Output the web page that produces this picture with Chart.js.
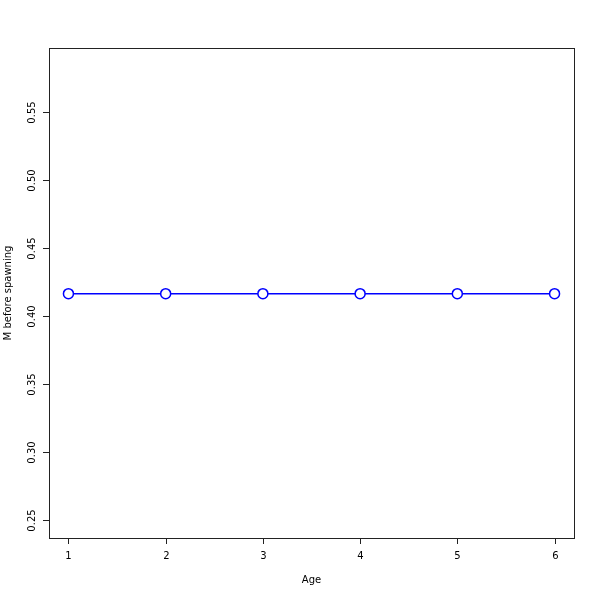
<!DOCTYPE html>
<html>
<head>
<meta charset="utf-8">
<script src="https://cdn.jsdelivr.net/npm/chart.js@4/dist/chart.umd.min.js"></script>
<style>
  html, body { margin: 0; padding: 0; background: #fff; }
  #wrap { width: 600px; height: 600px; }
</style>
</head>
<body>
<div id="wrap"><canvas id="mChart" width="600" height="600"></canvas></div>
<script>
// data
const ages = [1, 2, 3, 4, 5, 6];
const mBeforeSpawning = [0.4162, 0.4162, 0.4162, 0.4162, 0.4162, 0.4162];
const xTicks = [1, 2, 3, 4, 5, 6];
const yTicks = [0.25, 0.30, 0.35, 0.40, 0.45, 0.50, 0.55];

const FONT = '10px "DejaVu Sans", sans-serif';

// draws the R style box, ticks, tick labels and axis titles
const rAxes = {
    id: 'rAxes',
    afterDraw(chart) {
        const ctx = chart.ctx;
        const a = chart.chartArea;
        const xs = chart.scales.x;
        const ys = chart.scales.y;
        ctx.save();
        ctx.strokeStyle = '#222';
        ctx.lineWidth = 1;
        ctx.strokeRect(Math.round(a.left) + 0.5, Math.round(a.top) + 0.5,
            Math.round(a.right - a.left), Math.round(a.bottom - a.top));

        ctx.fillStyle = '#000';
        ctx.font = FONT;

        // x ticks
        ctx.textAlign = 'center';
        ctx.textBaseline = 'middle';
        xTicks.forEach(v => {
            const px = Math.round(xs.getPixelForValue(v)) + 0.5;
            ctx.beginPath();
            ctx.moveTo(px, a.bottom);
            ctx.lineTo(px, a.bottom + 6);
            ctx.stroke();
            ctx.fillText(String(v), px, a.bottom + 18);
        });

        // y ticks (labels rotated like R)
        yTicks.forEach(v => {
            const py = Math.round(ys.getPixelForValue(v)) + 0.5;
            ctx.beginPath();
            ctx.moveTo(a.left - 6, py);
            ctx.lineTo(a.left, py);
            ctx.stroke();
            ctx.save();
            ctx.translate(a.left - 17, py);
            ctx.rotate(-Math.PI / 2);
            ctx.fillText(v.toFixed(2), 0, 0);
            ctx.restore();
        });

        // axis titles
        ctx.fillText('Age', (a.left + a.right) / 2, 580);
        ctx.save();
        ctx.translate(8, (a.top + a.bottom) / 2);
        ctx.rotate(-Math.PI / 2);
        ctx.fillText('M before spawning', 0, 0);
        ctx.restore();
        ctx.restore();
    }
};

const ctx = document.getElementById('mChart').getContext('2d');
const mChart = new Chart(ctx, {
    type: 'line',
    data: {
        datasets: [{
            data: ages.map((a, i) => ({ x: a, y: mBeforeSpawning[i] })),
            borderColor: '#0000ff',
            borderWidth: 1.5,
            pointRadius: 5,
            pointBorderWidth: 1.5,
            pointBackgroundColor: '#ffffff',
            pointBorderColor: '#0000ff',
            tension: 0
        }]
    },
    options: {
        responsive: false,
        animation: false,
        devicePixelRatio: 1,
        layout: { padding: { left: 49, top: 48, right: 26, bottom: 62 } },
        plugins: { legend: { display: false }, tooltip: { enabled: false } },
        scales: {
            x: { type: 'linear', min: 0.8, max: 6.2, display: false },
            y: { type: 'linear', min: 0.2367, max: 0.5967, display: false }
        }
    },
    plugins: [rAxes]
});
</script>
</body>
</html>
